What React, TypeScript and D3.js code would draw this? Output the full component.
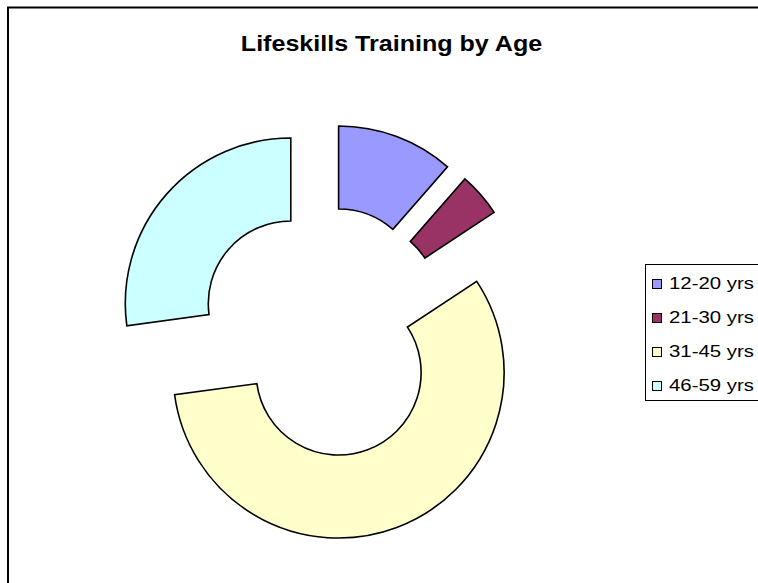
import React, { useEffect, useRef } from "react";
import * as d3 from "d3";

const ageGroups = ["12-20 yrs", "21-30 yrs", "31-45 yrs", "46-59 yrs"];
const trainees = [8, 3, 40, 19];
const sliceColors = ["#9999FF", "#993366", "#FFFFCC", "#CCFFFF"];

const width = 758;
const height = 583;

export default function App() {
  const ref = useRef<SVGSVGElement>(null);

  useEffect(() => {
    const svg = d3.select(ref.current);
    svg.selectAll("*").remove();

    // chart frame (runs off the right and bottom edges)
    svg.append("rect")
      .attr("x", 8).attr("y", 7.5)
      .attr("width", 800).attr("height", 650)
      .attr("fill", "#fff")
      .attr("stroke", "#000")
      .attr("stroke-width", 2);

    // the original font renders wide, so stretch it a little
    svg.append("text")
      .attr("transform", "translate(391.5,51) scale(1.14,1)")
      .attr("text-anchor", "middle")
      .style("font-family", "Arial, 'Liberation Sans', sans-serif")
      .style("font-weight", "bold")
      .style("font-size", "22px")
      .text("Lifeskills Training by Age");

    const cx = 323.4, cy = 332;
    const outer = 165.5, inner = 82.5;
    const explode = 43.3;

    const pie = d3.pie<number>().sort(null).value(d => d);
    const arc = d3.arc<d3.PieArcDatum<number>>()
      .innerRadius(inner)
      .outerRadius(outer);

    const g = svg.append("g").attr("transform", `translate(${cx},${cy})`);
    g.selectAll("path")
      .data(pie(trainees))
      .join("path")
        .attr("d", arc)
        .attr("transform", d => {
          const a = (d.startAngle + d.endAngle) / 2;
          return `translate(${explode * Math.sin(a)},${-explode * Math.cos(a)})`;
        })
        .attr("fill", (d, i) => sliceColors[i])
        .attr("stroke", "#000")
        .attr("stroke-width", 1.6);

    // legend
    const legend = svg.append("g");
    legend.append("rect")
      .attr("x", 645.5).attr("y", 264.5)
      .attr("width", 200).attr("height", 136)
      .attr("fill", "#fff")
      .attr("stroke", "#000")
      .attr("stroke-width", 1);

    const rows = legend.selectAll("g.item")
      .data(ageGroups)
      .join("g")
        .attr("class", "item")
        .attr("transform", (d, i) => `translate(0,${279.5 + i * 34})`);
    rows.append("rect")
      .attr("x", 652.5).attr("y", 0)
      .attr("width", 9).attr("height", 9)
      .attr("fill", (d, i) => sliceColors[i])
      .attr("stroke", "#000")
      .attr("stroke-width", 1);
    rows.append("text")
      .attr("transform", "translate(669,9.8) scale(1.2,1)")
      .style("font-family", "Arial, 'Liberation Sans', sans-serif")
      .style("font-size", "17px")
      .text(d => d);
  }, []);

  return (
    <svg ref={ref} width={width} height={height}
      style={{ position: "absolute", left: 0, top: 0, display: "block" }} />
  );
}
